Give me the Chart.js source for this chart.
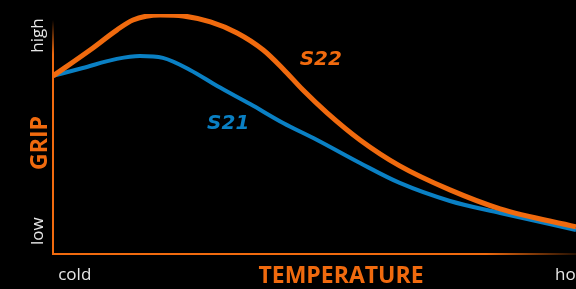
<!DOCTYPE html>
<html>
<head>
<meta charset="utf-8">
<script src="https://cdn.jsdelivr.net/npm/chart.js@4/dist/chart.umd.min.js"></script>
<style>
  html, body { margin: 0; padding: 0; background: #000; }
  #wrap { width: 576px; height: 289px; }
</style>
</head>
<body>
<div id="wrap"><canvas id="chart"></canvas></div>
<script>
// temperature runs 0 (cold) .. 100 (hot), grip runs 0 (low) .. 100 (high)
const s22Temp = [0, 7.1, 12.2, 15.3, 20.5, 24.9, 30.1, 35.2, 40.2, 44, 47.8, 52.4, 58.7, 66.3, 75.9, 85.5, 100];
const s22Grip = [74.2, 85, 93.3, 97.5, 99.6, 99.2, 96.7, 92.1, 85, 77.1, 68.3, 58.8, 47.5, 36.7, 26.7, 18.8, 11.3];
const s21Temp = [0, 5.7, 12.2, 16.6, 21, 26.2, 31.4, 37.7, 44, 50.5, 58.7, 66.3, 75.9, 85.5, 100];
const s21Grip = [74.2, 77.5, 81.3, 82.5, 81.7, 76.7, 70, 62.5, 54.6, 47.5, 37.9, 29.6, 22.1, 17.1, 10];

const seriesNames = ['S22', 'S21'];
const nameAt = [[51.2, 80.8], [33.5, 54.2]];

const xTicks = [[1, 'cold'], [96, 'hot']];
const yTicks = [[91, 'high'], [9.5, 'low']];
const xTitle = 'TEMPERATURE';
const yTitle = 'GRIP';

const ORANGE = 'rgb(240,106,14)';
const BLUE = 'rgb(10,128,196)';
const WHITE = '#e6e6e6';

const pts = (xs, ys) => xs.map((x, i) => ({ x: x, y: ys[i] }));

const decor = {
  id: 'decor',
  afterDatasetsDraw(chart) {
    const ctx = chart.ctx;
    const a = chart.chartArea;
    const xs = chart.scales.x, ys = chart.scales.y;
    ctx.save();

    // axes, fading at the far ends
    let g = ctx.createLinearGradient(0, a.top + 6, 0, a.top + 40);
    g.addColorStop(0, 'rgba(240,106,14,0)');
    g.addColorStop(1, ORANGE);
    ctx.strokeStyle = g;
    ctx.lineWidth = 2;
    ctx.beginPath();
    ctx.moveTo(a.left, a.top + 6);
    ctx.lineTo(a.left, a.bottom);
    ctx.stroke();

    g = ctx.createLinearGradient(a.right - 90, 0, a.right, 0);
    g.addColorStop(0, ORANGE);
    g.addColorStop(1, 'rgba(240,106,14,0.15)');
    ctx.strokeStyle = g;
    ctx.beginPath();
    ctx.moveTo(a.left - 1, a.bottom);
    ctx.lineTo(a.right, a.bottom);
    ctx.stroke();

    // tick labels
    ctx.fillStyle = WHITE;
    ctx.font = '17px "Open Sans", sans-serif';
    ctx.textBaseline = 'middle';
    ctx.textAlign = 'left';
    xTicks.forEach(t => ctx.fillText(t[1], xs.getPixelForValue(t[0]), a.bottom + 21));
    yTicks.forEach(t => {
      ctx.save();
      ctx.translate(a.left - 15, ys.getPixelForValue(t[0]));
      ctx.rotate(-Math.PI / 2);
      ctx.textAlign = 'center';
      ctx.fillText(t[1], 0, 0);
      ctx.restore();
    });

    // axis titles
    ctx.fillStyle = ORANGE;
    ctx.font = 'bold 23px "Open Sans", sans-serif';
    ctx.textAlign = 'center';
    ctx.fillText(xTitle, 341, a.bottom + 22);
    ctx.save();
    ctx.translate(a.left - 13, 143);
    ctx.rotate(-Math.PI / 2);
    ctx.fillText(yTitle, 0, 0);
    ctx.restore();

    // series names
    ctx.font = 'italic bold 20px "DejaVu Sans", sans-serif';
    seriesNames.forEach((n, i) => {
      ctx.fillStyle = chart.data.datasets[i].borderColor;
      ctx.fillText(n, xs.getPixelForValue(nameAt[i][0]), ys.getPixelForValue(nameAt[i][1]));
    });
    ctx.restore();
  }
};

new Chart(document.getElementById('chart'), {
  type: 'line',
  data: {
    datasets: [{
      label: seriesNames[0],
      data: pts(s22Temp, s22Grip),
      borderColor: ORANGE,
      borderWidth: 5,
      pointRadius: 0,
      cubicInterpolationMode: 'monotone',
      fill: false
    }, {
      label: seriesNames[1],
      data: pts(s21Temp, s21Grip),
      borderColor: BLUE,
      borderWidth: 4,
      pointRadius: 0,
      cubicInterpolationMode: 'monotone',
      fill: false
    }]
  },
  options: {
    responsive: true,
    maintainAspectRatio: false,
    animation: false,
    layout: { padding: { left: 53, right: 0, top: 14, bottom: 35 } },
    plugins: { legend: { display: false }, tooltip: { enabled: false } },
    scales: {
      x: { type: 'linear', min: 0, max: 100, display: false },
      y: { min: 0, max: 100, display: false }
    }
  },
  plugins: [decor]
});
</script>
</body>
</html>
